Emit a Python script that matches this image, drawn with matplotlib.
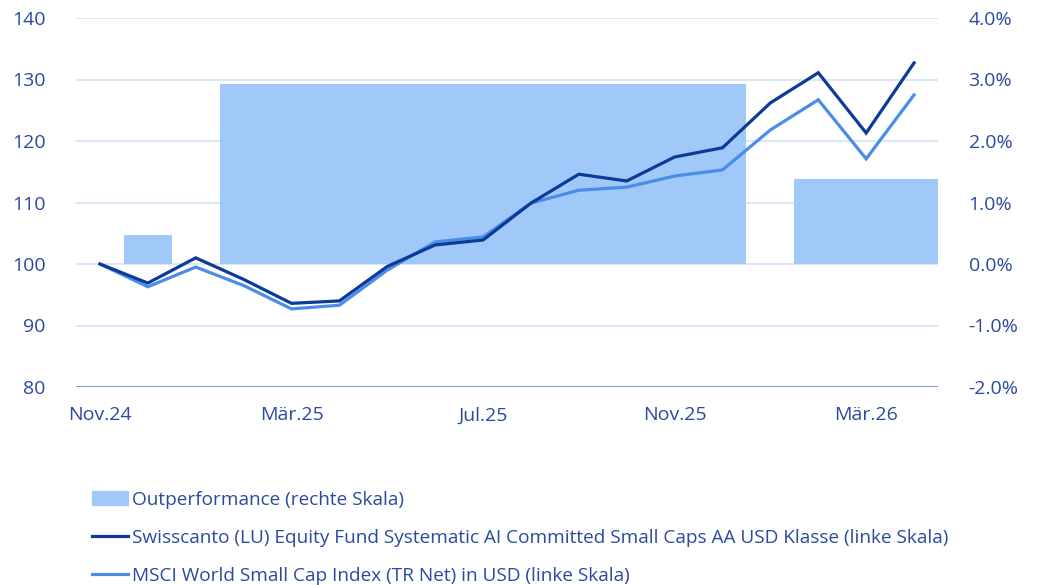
import numpy as np
import matplotlib.pyplot as plt
import matplotlib.patches as mpatches
from matplotlib.lines import Line2D
from matplotlib.ticker import FuncFormatter

plt.rcParams['font.family'] = ['Open Sans', 'DejaVu Sans']

# Monatsachse
months = ["Nov.24", "Dez.24", "Jan.25", "Feb.25", "Mär.25", "Apr.25", "Mai.25", "Jun.25",
          "Jul.25", "Aug.25", "Sep.25", "Okt.25", "Nov.25", "Dez.25", "Jan.26", "Feb.26",
          "Mär.26", "Apr.26"]
tick_labels = ["Nov.24", "Mär.25", "Jul.25", "Nov.25", "Mär.26"]

# Indexierte Wertentwicklung (linke Skala)
fund = [100, 96.9, 101.0, 97.5, 93.6, 94.0, 99.6, 103.1, 103.9, 109.9,
        114.6, 113.5, 117.4, 118.9, 126.2, 131.1, 121.3, 132.7]
msci = [100, 96.3, 99.5, 96.5, 92.7, 93.3, 99.0, 103.6, 104.4, 109.9,
        112.0, 112.5, 114.3, 115.3, 121.8, 126.7, 117.1, 127.5]

# Outperformance pro Periode (rechte Skala, in %)
perf_first = ["Dez.24", "Feb.25", "Feb.26"]
perf_last = ["Dez.24", "Dez.25", "Apr.26"]
outperf = [0.47, 2.93, 1.38]

C_TEXT = "#2b4a9e"
C_BAR = "#a0c8f8"
C_FUND = "#0b3a9a"
C_MSCI = "#4a8de6"
C_GRID = "#d0e0f6"
C_AXIS = "#5a7cc6"

fig = plt.figure(figsize=(10.38, 5.85), dpi=100)
ax = fig.add_axes([76 / 1038, 1 - 387 / 585, (938 - 76) / 1038, (387 - 18) / 585])
ax2 = ax.twinx()

x = np.arange(len(months))
idx = {m: i for i, m in enumerate(months)}

# Balken auf rechter Achse
for first, last, v in zip(perf_first, perf_last, outperf):
    left = idx[first] - 0.5
    width = idx[last] - idx[first] + 1
    ax2.bar(left, v, width=width, align='edge', color=C_BAR, zorder=1)

ax2.set_ylim(-2, 4)
ax2.set_yticks(np.arange(-2, 4.01, 1))
ax2.yaxis.set_major_formatter(FuncFormatter(lambda v, p: f"{v:.1f}%"))

# Linien auf linker Achse, vor die Balken legen
ax.set_zorder(ax2.get_zorder() + 1)
ax.patch.set_visible(False)
ax.plot(x, msci, color=C_MSCI, lw=2.3, zorder=3, solid_joinstyle='miter')
ax.plot(x, fund, color=C_FUND, lw=2.3, zorder=4, solid_joinstyle='miter')

ax.set_ylim(80, 140)
ax.set_yticks(np.arange(80, 141, 10))
ax.set_xlim(-0.5, 17.5)
ax.set_xticks([idx[t] for t in tick_labels])
ax.set_xticklabels(tick_labels)

# Gitterlinien auf ax2 (hinter den Balken)
for yv in np.arange(-1, 4.01, 1):
    ax2.axhline(yv, color=C_GRID, lw=1.1, zorder=0)
ax2.axhline(-2, color=C_AXIS, lw=1.1, zorder=0)

for a in (ax, ax2):
    for s in a.spines.values():
        s.set_visible(False)
    a.tick_params(length=0, colors=C_TEXT, labelsize=14)
ax.tick_params(axis='y', pad=22)
ax2.tick_params(axis='y', pad=22)
ax.tick_params(axis='x', pad=14)

handles = [
    mpatches.Patch(color=C_BAR),
    Line2D([], [], color=C_FUND, lw=2.3),
    Line2D([], [], color=C_MSCI, lw=2.3),
]
labels = [
    "Outperformance (rechte Skala)",
    "Swisscanto (LU) Equity Fund Systematic AI Committed Small Caps AA USD Klasse (linke Skala)",
    "MSCI World Small Cap Index (TR Net) in USD (linke Skala)",
]
leg = fig.legend(handles, labels, loc='upper left', bbox_to_anchor=(84 / 1038, 1 - 483 / 585),
                 frameon=False, fontsize=13.7, handlelength=1.9, handleheight=0.75,
                 handletextpad=0.2, labelspacing=1.05, borderaxespad=0)
for t in leg.get_texts():
    t.set_color(C_TEXT)

fig.savefig("out.png", dpi=100)
